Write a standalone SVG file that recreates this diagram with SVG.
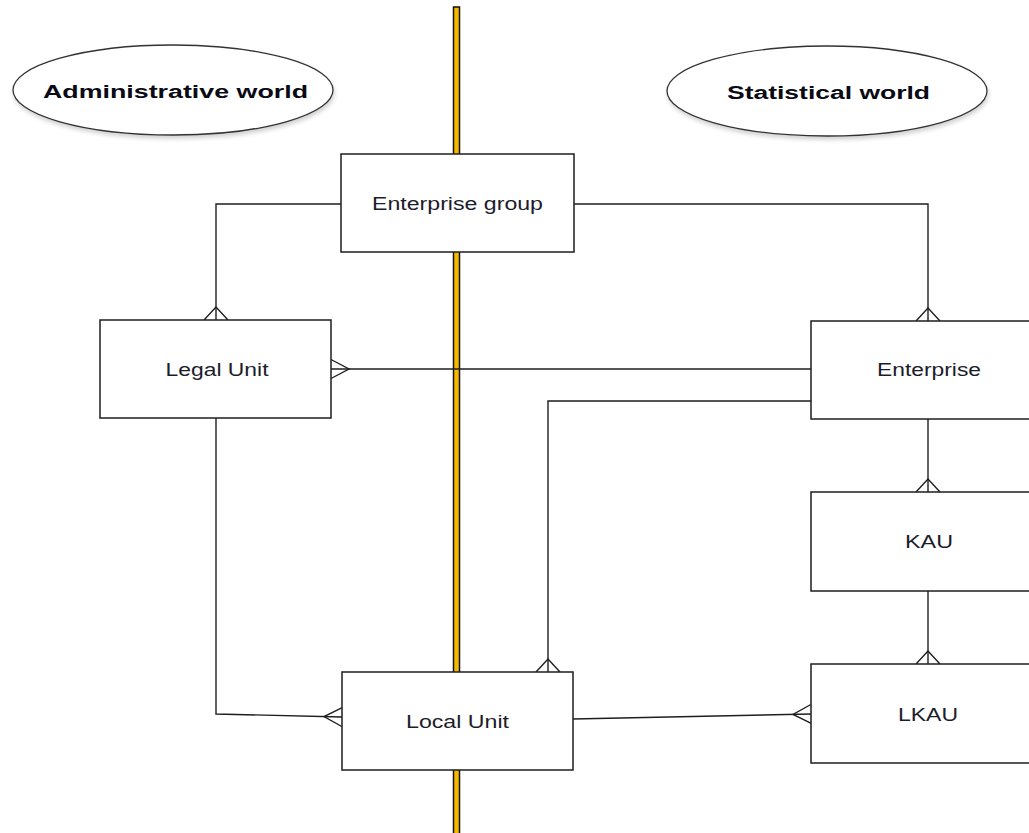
<svg xmlns="http://www.w3.org/2000/svg" width="1029" height="833" viewBox="0 0 1029 833">
  <defs>
    <style>
      .box { fill: #ffffff; stroke: #1e1e1e; stroke-width: 1.5; }
      .lbl { font-family: "Liberation Sans", Arial, sans-serif; font-size: 17.5px; fill: #1c1c2c; text-anchor: middle; }
      .title { font-family: "Liberation Sans", Arial, sans-serif; font-size: 18px; font-weight: bold; fill: #0a0a14; text-anchor: middle; }
      .ell { fill: #ffffff; stroke: #333333; stroke-width: 1.3; }
      .conn { fill: none; stroke: #1e1e1e; stroke-width: 1.4; }
    </style>
    <filter id="shadow" x="-10%" y="-20%" width="120%" height="150%">
      <feDropShadow dx="1" dy="3" stdDeviation="2" flood-color="#000000" flood-opacity="0.18"/>
    </filter>
    <marker id="cfV" markerUnits="userSpaceOnUse" viewBox="-15 -14 16 28" refX="0" refY="0" markerWidth="16" markerHeight="28" orient="auto">
      <path d="M0,-12 L-13,0 L0,12" fill="none" stroke="#1e1e1e" stroke-width="1.4"/>
    </marker>
    <marker id="cfH" markerUnits="userSpaceOnUse" viewBox="-20 -11 21 22" refX="0" refY="0" markerWidth="21" markerHeight="22" orient="auto">
      <path d="M0,-9.5 L-18,0 L0,9.5" fill="none" stroke="#1e1e1e" stroke-width="1.4"/>
    </marker>
  </defs>
  <rect width="1029" height="833" fill="#ffffff"/>

  <g id="divider">
    <rect x="453.5" y="7" width="6" height="840" fill="#F4B800" stroke="#111111" stroke-width="1.5"/>
  </g>

  <g id="admin-world">
    <ellipse class="ell" cx="173" cy="90" rx="160" ry="45" filter="url(#shadow)"/>
    <text class="title" x="175.5" y="98" textLength="265" lengthAdjust="spacingAndGlyphs">Administrative world</text>
  </g>
  <g id="statistical-world">
    <ellipse class="ell" cx="827" cy="91" rx="160" ry="45" filter="url(#shadow)"/>
    <text class="title" x="828.5" y="99" textLength="203" lengthAdjust="spacingAndGlyphs">Statistical world</text>
  </g>

  <g id="connectors">
    <path class="conn" d="M341,204 H216 V320" marker-end="url(#cfV)"/>
    <path class="conn" d="M574,204 H928 V321" marker-end="url(#cfV)"/>
    <path class="conn" d="M811,369 H331" marker-end="url(#cfH)"/>
    <path class="conn" d="M811,401 H548 V672" marker-end="url(#cfV)"/>
    <path class="conn" d="M216,418 V714 L342,717" marker-end="url(#cfH)"/>
    <path class="conn" d="M573,719 L811,714" marker-end="url(#cfH)"/>
    <path class="conn" d="M928,419 V492" marker-end="url(#cfV)"/>
    <path class="conn" d="M928,591 V664" marker-end="url(#cfV)"/>
  </g>

  <g id="enterprise-group">
    <rect class="box" x="341" y="154" width="233" height="98"/>
    <text class="lbl" x="457.5" y="210" textLength="171" lengthAdjust="spacingAndGlyphs">Enterprise group</text>
  </g>
  <g id="legal-unit">
    <rect class="box" x="100" y="320" width="231" height="98"/>
    <text class="lbl" x="217" y="376" textLength="103" lengthAdjust="spacingAndGlyphs">Legal Unit</text>
  </g>
  <g id="enterprise">
    <rect class="box" x="811" y="321" width="233" height="98"/>
    <text class="lbl" x="929" y="376" textLength="104" lengthAdjust="spacingAndGlyphs">Enterprise</text>
  </g>
  <g id="kau">
    <rect class="box" x="811" y="492" width="233" height="99"/>
    <text class="lbl" x="929" y="548" textLength="48" lengthAdjust="spacingAndGlyphs">KAU</text>
  </g>
  <g id="lkau">
    <rect class="box" x="811" y="664" width="233" height="99"/>
    <text class="lbl" x="928" y="721" textLength="60" lengthAdjust="spacingAndGlyphs">LKAU</text>
  </g>
  <g id="local-unit">
    <rect class="box" x="342" y="672" width="231" height="98"/>
    <text class="lbl" x="457.5" y="728" textLength="103" lengthAdjust="spacingAndGlyphs">Local Unit</text>
  </g>
</svg>
